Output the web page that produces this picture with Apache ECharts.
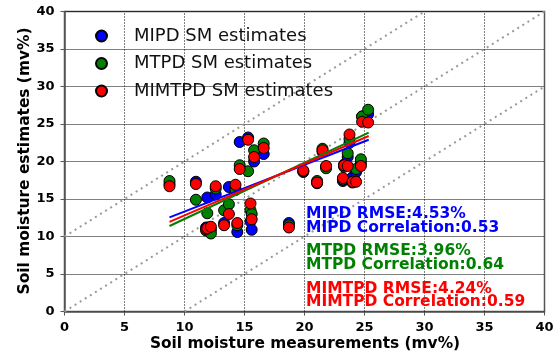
<!DOCTYPE html>
<html>
<head>
<meta charset="utf-8">
<script src="https://cdn.jsdelivr.net/npm/echarts@6/dist/echarts.min.js"></script>
<style>
  html, body { margin: 0; padding: 0; background: #fff; }
  #main { width: 558px; height: 360px; }
</style>
</head>
<body>
<div id="main"></div>
<script>
// measured soil moisture (x), shared by the three estimates
const measured = [8.75, 10.95, 11.8, 11.9, 12.2, 12.6, 13.3, 13.7, 14.25, 14.4, 14.6, 15.3, 15.5, 15.6, 15.8,
  16.6, 18.7, 19.9, 21.05, 21.5, 21.8, 23.2, 23.3, 23.6, 23.75, 24.0, 24.3, 24.7, 24.8, 25.3];
const mipd = [17.0, 17.3, 11.2, 15.2, 10.9, 15.6, 11.8, 16.6, 16.3, 10.6, 22.6, 23.2, 12.0, 10.9, 20.0,
  21.0, 11.8, 18.6, 17.1, 21.3, 19.3, 17.4, 19.6, 20.6, 22.5, 17.9, 18.6, 19.8, 26.0, 26.3];
const mtpd = [17.4, 14.9, 10.8, 13.1, 10.4, 16.4, 13.5, 14.3, 16.2, 11.5, 19.5, 18.7, 13.5, 13.0, 21.5,
  22.4, 11.5, 18.7, 17.4, 21.7, 19.1, 17.6, 19.3, 21.1, 23.0, 17.2, 19.0, 20.3, 26.0, 26.9];
const mimtpd = [16.7, 17.0, 11.0, 11.1, 11.3, 16.7, 11.5, 13.0, 16.9, 11.8, 19.0, 22.9, 14.4, 12.3, 20.6,
  21.8, 11.2, 18.8, 17.2, 21.5, 19.4, 17.8, 19.5, 19.4, 23.6, 17.3, 17.3, 19.4, 25.3, 25.2];

// fitted lines (end points)
const mipdFit = [[8.75, 12.55], [25.35, 22.9]];
const mtpdFit = [[8.75, 11.4], [25.35, 23.85]];
const mimtpdFit = [[8.75, 11.95], [25.35, 23.4]];

// 1:1 line and +/-10 offsets
const oneToOne = [[0, 0], [40, 40]];
const upper10 = [[0, 10], [30, 40]];
const lower10 = [[10, 0], [40, 30]];

// inner vertical grid lines
const xGrid = [5, 10, 15, 20, 25, 30, 35];

const names = ['MIPD SM estimates', 'MTPD SM estimates', 'MIMTPD SM estimates'];
const colors = ['#0000ff', '#008000', '#ff0000'];

const stats = [
  ['MIPD RMSE:4.53%', 'MIPD Correlation:0.53'],
  ['MTPD RMSE:3.96%', 'MTPD Correlation:0.64'],
  ['MIMTPD RMSE:4.24%', 'MIMTPD Correlation:0.59']
];

const pairs = ys => measured.map((x, i) => [x, ys[i]]);

const refLine = data => ({
  type: 'line',
  data: data,
  symbol: 'none',
  silent: true,
  z: 1,
  lineStyle: {color: '#999', width: 2, type: [2, 4]}
});

const vLine = v => ({
  type: 'line',
  data: [[v, 0], [v, 40]],
  symbol: 'none',
  silent: true,
  z: 0,
  lineStyle: {color: '#000', width: 1, type: [1, 2]}
});

const fitLine = (data, color) => ({
  type: 'line',
  data: data,
  symbol: 'none',
  silent: true,
  z: 4,
  lineStyle: {color: color, width: 2}
});

const scatter = (name, ys, color) => ({
  name: name,
  type: 'scatter',
  data: pairs(ys),
  symbolSize: 11,
  z: 3,
  itemStyle: {color: color, borderColor: '#000', borderWidth: 1, opacity: 1}
});

const statText = (lines, color, top) => ({
  type: 'text',
  left: 306,
  top: top,
  z: 10,
  style: {
    text: lines.join('\n'),
    fill: color,
    font: 'bold 15.5px "DejaVu Sans"',
    lineHeight: 13.5
  }
});

const axisTitle = (text, x, y, rotation) => ({
  type: 'text',
  x: x,
  y: y,
  rotation: rotation,
  z: 10,
  style: {
    text: text,
    fill: '#000',
    font: 'bold 15.4px "DejaVu Sans"',
    align: 'center',
    verticalAlign: 'middle'
  }
});

const makeAxis = showSplit => ({
  type: 'value',
  min: 0,
  max: 40,
  interval: 5,
  axisLine: {show: true, onZero: false, lineStyle: {color: '#555', width: 1.5}},
  axisTick: {show: true, length: 4, lineStyle: {color: '#555'}},
  axisLabel: {color: '#000', fontWeight: 'bold', fontSize: 13, fontFamily: 'DejaVu Sans', margin: 10},
  splitLine: {show: showSplit, lineStyle: {color: '#000', width: 1, type: 'dotted'}}
});

const option = {
  animation: false,
  backgroundColor: '#fff',
  grid: {
    left: 64.5, right: 13.5, top: 11.5, bottom: 48.5,
    show: true, borderColor: '#555', borderWidth: 1.5
  },
  legend: {
    data: names,
    orient: 'vertical',
    left: 90,
    top: 22,
    icon: 'circle',
    itemWidth: 11,
    itemHeight: 11,
    itemGap: 9.5,
    textStyle: {color: '#111', fontSize: 18, fontFamily: 'DejaVu Sans', padding: [0, 0, 0, 22]}
  },
  xAxis: makeAxis(false),
  yAxis: makeAxis(true),
  graphic: [
    axisTitle('Soil moisture measurements (mv%)', 305, 344, 0),
    axisTitle('Soil moisture estimates (mv%)', 25, 161, Math.PI / 2),
    statText(stats[0], colors[0], 206),
    statText(stats[1], colors[1], 243.3),
    statText(stats[2], colors[2], 280.5)
  ],
  series: xGrid.map(vLine).concat([
    refLine(oneToOne),
    refLine(upper10),
    refLine(lower10),
    scatter(names[0], mipd, colors[0]),
    scatter(names[1], mtpd, colors[1]),
    scatter(names[2], mimtpd, colors[2]),
    fitLine(mipdFit, colors[0]),
    fitLine(mtpdFit, colors[1]),
    fitLine(mimtpdFit, colors[2])
  ])
};

const myChart = echarts.init(document.getElementById('main'));
myChart.setOption(option);
</script>
</body>
</html>
